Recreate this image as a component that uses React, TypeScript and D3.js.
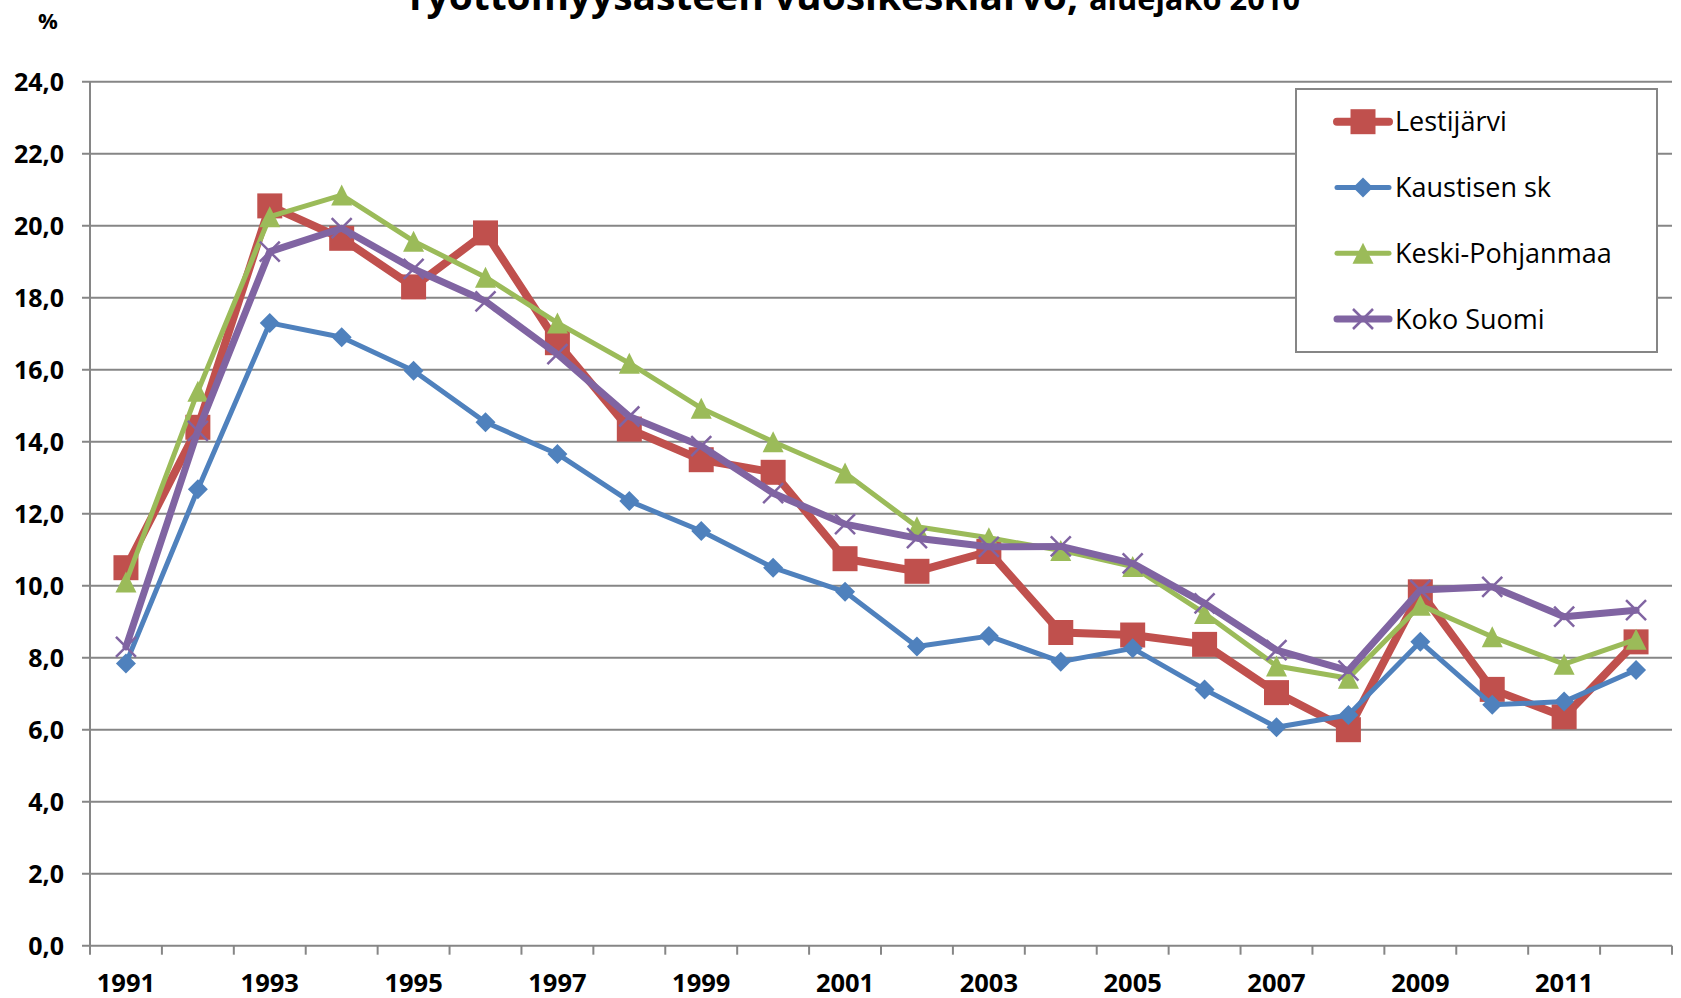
import React from 'react';
import * as d3 from 'd3';

// Years on the category axis
const years = [1991, 1992, 1993, 1994, 1995, 1996, 1997, 1998, 1999, 2000, 2001,
  2002, 2003, 2004, 2005, 2006, 2007, 2008, 2009, 2010, 2011, 2012];

// Only every second year gets a label
const yearLabels = [1991, 1993, 1995, 1997, 1999, 2001, 2003, 2005, 2007, 2009, 2011];

// Unemployment rate, annual average (%)
const lestijarvi = [10.5, 14.4, 20.55, 19.65, 18.3, 19.8, 16.75, 14.35, 13.5, 13.15, 10.75,
  10.4, 10.95, 8.7, 8.63, 8.37, 7.03, 6.0, 9.83, 7.12, 6.36, 8.44];
const kaustisenSk = [7.84, 12.68, 17.3, 16.9, 15.97, 14.54, 13.66, 12.35, 11.52, 10.5, 9.83,
  8.31, 8.6, 7.89, 8.26, 7.12, 6.07, 6.41, 8.44, 6.69, 6.78, 7.66];
const keskiPohjanmaa = [10.1, 15.4, 20.25, 20.85, 19.57, 18.57, 17.3, 16.18, 14.93, 14.0, 13.13,
  11.64, 11.33, 10.98, 10.53, 9.23, 7.77, 7.43, 9.46, 8.58, 7.82, 8.51];
const kokoSuomi = [8.3, 14.3, 19.28, 19.93, 18.8, 17.9, 16.43, 14.7, 13.88, 12.57, 11.71,
  11.32, 11.08, 11.09, 10.62, 9.51, 8.21, 7.64, 9.88, 9.97, 9.14, 9.32];

const yTicks = [0, 2, 4, 6, 8, 10, 12, 14, 16, 18, 20, 22, 24];

const series = [
  { name: 'Lestijärvi', values: lestijarvi, color: '#C0504D', width: 8, marker: 'square' },
  { name: 'Kaustisen sk', values: kaustisenSk, color: '#4F81BD', width: 5, marker: 'diamond' },
  { name: 'Keski-Pohjanmaa', values: keskiPohjanmaa, color: '#9BBB59', width: 5, marker: 'triangle' },
  { name: 'Koko Suomi', values: kokoSuomi, color: '#8064A2', width: 7, marker: 'x' },
];

const FONT = '"Open Sans", sans-serif';
const GRID = '#868686';

// Marker shape centred on (x, y)
const markerPath = (type: string, x: number, y: number) => {
  if (type === 'square') {
    const h = 12.5;
    return `M${x - h},${y - h}H${x + h}V${y + h}H${x - h}Z`;
  }
  if (type === 'diamond') {
    const h = 10;
    return `M${x},${y - h}L${x + h},${y}L${x},${y + h}L${x - h},${y}Z`;
  }
  if (type === 'triangle') {
    const h = 10.5;
    return `M${x},${y - h}L${x + h},${y + h}L${x - h},${y + h}Z`;
  }
  const h = 10;
  return `M${x - h},${y - h}L${x + h},${y + h}M${x - h},${y + h}L${x + h},${y - h}`;
};

const Marker = ({ type, x, y, color }: { type: string; x: number; y: number; color: string }) =>
  type === 'x'
    ? <path d={markerPath(type, x, y)} stroke={color} strokeWidth={2.5} fill="none" />
    : <path d={markerPath(type, x, y)} fill={color} stroke="none" />;

export default function App() {
  const width = 1681;
  const height = 998;
  const left = 90;
  const right = 1672;
  const top = 81.7;
  const bottom = 945.7;

  const x = d3.scaleBand<number>().domain(years).range([left, right]).padding(0);
  const y = d3.scaleLinear().domain([0, 24]).range([bottom, top]);
  const cx = (yr: number) => (x(yr) as number) + x.bandwidth() / 2;

  const line = d3.line<number>()
    .x((d, i) => cx(years[i]))
    .y(d => y(d));

  // Legend placement
  const legend = { x: 1296, y: 89, w: 361, h: 263 };
  const legendRows = [121.7, 187.5, 253.3, 319];

  return (
    <svg width={width} height={height} style={{ position: 'absolute', left: 0, top: 0, background: '#fff' }}
      fontFamily={FONT}>
      <rect x={0} y={0} width={width} height={height} fill="#fff" />

      {/* Title, partly cut off at the top like in the source image */}
      <text x={404} y={10} fontSize={37} fontWeight={700} textLength={674} lengthAdjust="spacingAndGlyphs">
        Työttömyysasteen vuosikeskiarvo,
      </text>
      <text x={1089} y={10} fontSize={30} fontWeight={700} textLength={211} lengthAdjust="spacingAndGlyphs">
        aluejako 2010
      </text>

      <text x={48} y={29} fontSize={22} fontWeight={700} textAnchor="middle">%</text>

      {/* Horizontal gridlines and y labels */}
      {yTicks.map(t => (
        <g key={t}>
          <line x1={left - 8} x2={right} y1={y(t)} y2={y(t)} stroke={GRID} strokeWidth={2} />
          <text x={64} y={y(t)} dy="0.36em" fontSize={25} fontWeight={700} textAnchor="end">
            {d3.format('.1f')(t).replace('.', ',')}
          </text>
        </g>
      ))}

      {/* Y axis line */}
      <line x1={left} x2={left} y1={top} y2={bottom} stroke={GRID} strokeWidth={2} />

      {/* X axis ticks at category boundaries */}
      {years.map(yr => (
        <line key={yr} x1={x(yr)} x2={x(yr)} y1={bottom} y2={bottom + 9} stroke={GRID} strokeWidth={2} />
      ))}
      <line x1={right} x2={right} y1={bottom} y2={bottom + 9} stroke={GRID} strokeWidth={2} />
      {yearLabels.map(yr => (
        <text key={yr} x={cx(yr)} y={992} fontSize={25.5} fontWeight={700} textAnchor="middle">{yr}</text>
      ))}

      {/* Series */}
      {series.map(s => (
        <g key={s.name}>
          <path d={line(s.values) || ''} fill="none" stroke={s.color} strokeWidth={s.width}
            strokeLinejoin="round" strokeLinecap="round" />
          {s.values.map((v, i) => (
            <Marker key={i} type={s.marker} x={cx(years[i])} y={y(v)} color={s.color} />
          ))}
        </g>
      ))}

      {/* Legend */}
      <rect x={legend.x} y={legend.y} width={legend.w} height={legend.h} fill="#fff" stroke={GRID} strokeWidth={2} />
      {series.map((s, i) => (
        <g key={s.name}>
          <line x1={1337} x2={1389} y1={legendRows[i]} y2={legendRows[i]} stroke={s.color}
            strokeWidth={s.width} strokeLinecap="round" />
          <Marker type={s.marker} x={1363} y={legendRows[i]} color={s.color} />
          <text x={1395} y={legendRows[i]} dy="0.36em" fontSize={27}>{s.name}</text>
        </g>
      ))}
    </svg>
  );
}
